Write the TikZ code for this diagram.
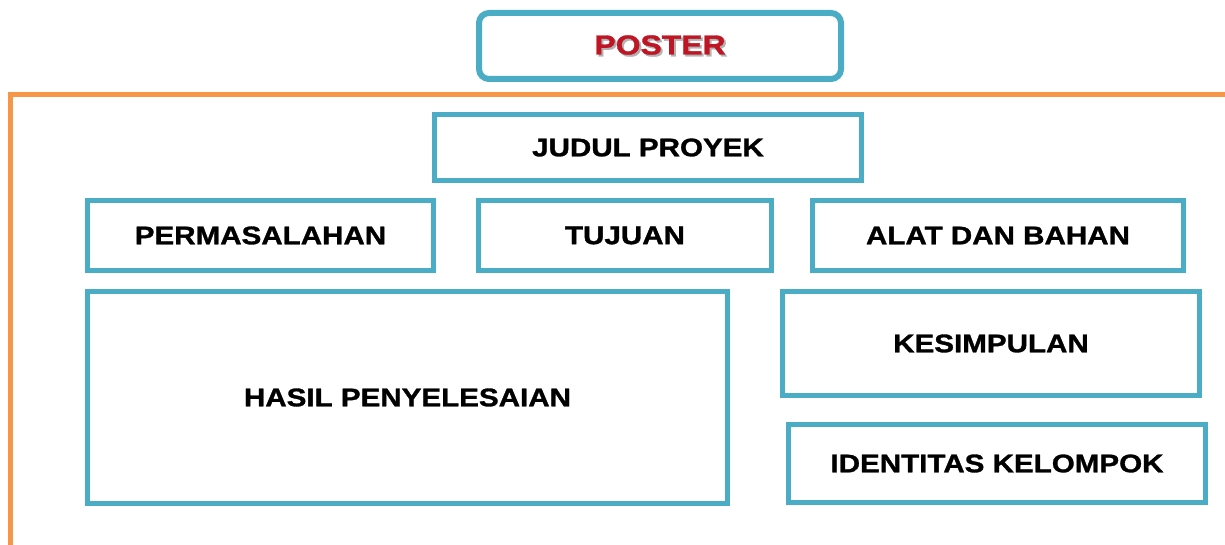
\documentclass[tikz,border=0pt]{standalone}
\usepackage{fontspec}
\newfontfamily\boxfont{Liberation Sans}[UprightFont=* Bold,FakeBold=1.2,FakeStretch=1.16]
\definecolor{boxblue}{RGB}{75,172,198}
\definecolor{frameorange}{RGB}{247,150,70}
\definecolor{posterred}{RGB}{190,22,36}
\begin{document}
\begin{tikzpicture}[x=1pt,y=-1pt,
  part/.style={draw=boxblue,line width=5pt,inner sep=0pt,
    font=\boxfont\fontsize{25.5}{30}\selectfont},
  titlebox/.style={part,line width=6pt,rounded corners=10pt}]
\useasboundingbox (0,0) rectangle (1225,545);
% frame of the poster
\draw[frameorange,line width=5pt] (10,560) -- (10,94.5) -- (1240,94.5);
% heading
\node[titlebox,minimum width=362pt,minimum height=66pt] (poster) at (660,46)
  {\fontsize{27.5}{30}\selectfont\makebox[0pt][l]{\hspace{2pt}\raisebox{-2pt}{\color{black!30}POSTER}}\color{posterred}POSTER};
% parts of the poster
\node[part,minimum width=427pt,minimum height=66pt] (judul) at (648,147.5) {JUDUL PROYEK};
\node[part,minimum width=346pt,minimum height=70pt] (masalah) at (260.5,235.5) {PERMASALAHAN};
\node[part,minimum width=293pt,minimum height=70pt] (tujuan) at (625,235.5) {TUJUAN};
\node[part,minimum width=371pt,minimum height=70pt] (alat) at (998,235.5) {ALAT DAN BAHAN};
\node[part,minimum width=640pt,minimum height=212pt] (hasil) at (407.5,397.5) {HASIL PENYELESAIAN};
\node[part,minimum width=417pt,minimum height=104pt] (simpulan) at (991,343.5) {KESIMPULAN};
\node[part,minimum width=417pt,minimum height=78pt] (identitas) at (997,463.5) {IDENTITAS KELOMPOK};
\end{tikzpicture}
\end{document}
